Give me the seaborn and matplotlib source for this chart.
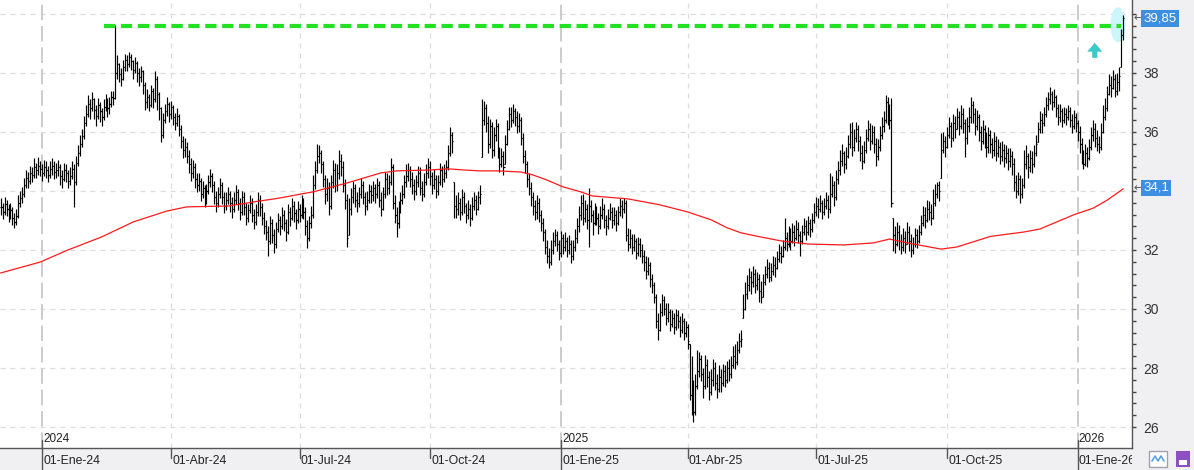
import numpy as np
import pandas as pd
import matplotlib
matplotlib.use('Agg')
import matplotlib.pyplot as plt
import seaborn as sns
from matplotlib import patches, transforms

# daily bars, first bar 01-Dic-23
closes = [
    33.45, 33.30, 33.55, 33.40, 33.20, 33.35, 33.10, 32.95, 33.15, 33.60,
    33.75, 33.90, 34.20, 34.45, 34.35, 34.60, 34.55, 34.80, 34.70, 34.85,
    34.75, 34.60, 34.80, 34.70, 34.55, 34.75, 34.85, 34.65, 34.70, 34.80,
    34.50, 34.40, 34.70, 34.60, 34.35, 34.50, 34.75, 34.30, 34.95, 35.30,
    35.60, 35.85, 36.30, 36.60, 36.95, 36.80, 37.10, 36.75, 36.55, 36.90,
    36.70, 36.50, 36.85, 37.05, 36.80, 36.95, 37.20, 37.15, 38.00, 38.30,
    37.95, 37.80, 38.20, 38.45, 38.30, 38.55, 38.40, 38.10, 38.35, 38.00,
    37.85, 38.05, 37.60, 37.00, 37.20, 36.90, 37.40, 37.10, 37.80, 37.30,
    36.80, 35.90, 36.40, 36.70, 36.95, 36.60, 36.85, 36.50, 36.30, 36.55,
    36.10, 35.70, 35.40, 35.50, 35.20, 34.90, 34.60, 34.80, 34.40, 34.20,
    34.35, 33.90, 34.10, 33.70, 34.00, 34.30, 34.50, 34.20, 33.80, 33.60,
    33.90, 34.20, 33.80, 33.50, 33.70, 33.90, 33.60, 33.40, 33.70, 33.95,
    33.60, 33.30, 33.80, 33.45, 33.10, 33.35, 33.60, 33.20, 32.95, 33.30,
    33.70, 33.45, 33.10, 32.80, 32.60, 32.30, 32.90, 32.50, 32.20, 32.70,
    33.00, 32.80, 33.20, 32.90, 32.60, 33.30, 33.10, 33.50, 33.25, 33.00,
    33.40, 33.20, 33.60, 33.30, 32.80, 32.40, 32.90, 33.20, 34.20, 34.70,
    35.20, 35.30, 34.90, 34.40, 33.90, 34.10, 33.50, 34.30, 34.70, 34.20,
    34.60, 35.00, 34.80, 34.20, 33.70, 32.40, 33.40, 33.80, 34.10, 33.70,
    33.60, 33.90, 34.20, 33.80, 33.50, 33.70, 34.00, 33.85, 34.10, 33.90,
    34.20, 33.70, 33.40, 33.90, 34.40, 34.10, 34.30, 34.80, 33.60, 33.20,
    32.90, 33.40, 33.70, 33.90, 34.30, 34.50, 34.70, 34.40, 34.20, 34.00,
    34.30, 34.60, 34.10, 33.90, 34.30, 34.60, 34.80, 34.50, 34.20, 34.40,
    34.00, 34.30, 34.70, 34.40, 34.60, 34.80, 35.30, 35.90, 35.70, 33.50,
    33.40, 33.60, 33.30, 33.80, 33.50, 33.20, 33.40, 33.10, 33.50, 33.70,
    33.40, 33.80, 33.90, 36.40, 36.80, 36.30, 35.60, 36.20, 35.40, 35.90,
    36.20, 35.30, 34.90, 35.20, 34.80, 35.60, 36.10, 36.60, 36.40, 36.70,
    36.50, 36.20, 36.40, 35.80, 35.20, 34.90, 34.40, 34.10, 33.80, 33.50,
    33.30, 33.60, 33.20, 32.90, 32.60, 32.10, 31.80, 31.60, 32.00, 32.30,
    32.50, 32.20, 31.90, 32.40, 32.10, 32.30, 32.00, 32.20, 31.80, 32.10,
    32.40, 32.80, 33.20, 33.60, 33.10, 33.40, 33.00, 33.50, 33.20, 32.90,
    33.30, 33.10, 32.80, 33.20, 33.40, 33.00, 32.80, 33.10, 33.30, 33.00,
    33.20, 32.90, 33.30, 33.50, 33.40, 33.60, 32.50, 32.20, 32.40, 32.10,
    32.30, 31.90, 32.20, 32.00, 31.80, 31.60, 31.30, 31.50, 31.00, 30.80,
    30.40, 29.60, 29.30, 29.90, 30.30, 30.00, 29.70, 29.90, 29.50, 29.70,
    29.40, 29.80, 29.60, 29.30, 29.60, 29.20, 29.40, 28.90, 27.10, 26.90,
    26.50, 27.40, 27.90, 28.30, 27.80, 27.40, 28.10, 27.70, 27.20, 27.60,
    28.00, 27.50, 27.30, 27.70, 27.50, 27.90, 27.60, 28.00, 27.80, 28.10,
    28.40, 28.20, 28.60, 28.90, 29.00, 30.00, 30.50, 30.80, 31.10, 30.90,
    31.20, 30.80, 31.00, 30.60, 30.40, 30.90, 31.20, 31.40, 31.10, 31.30,
    31.50, 31.40, 31.70, 31.90, 31.80, 32.10, 32.40, 32.20, 32.50, 32.30,
    32.60, 32.40, 32.70, 32.50, 32.30, 32.60, 32.80, 32.60, 32.90, 32.70,
    33.00, 33.30, 33.50, 33.40, 33.60, 33.30, 33.50, 33.70, 33.40, 33.90,
    34.20, 33.80, 34.40, 34.70, 35.00, 35.30, 34.90, 35.20, 35.60, 36.00,
    35.50, 35.80, 36.10, 35.70, 35.30, 35.00, 35.40, 35.80, 36.10, 35.70,
    36.00, 35.60, 35.20, 35.50, 35.90, 36.20, 36.40, 37.00, 36.60, 36.40,
    33.60, 32.50, 32.20, 32.60, 32.30, 32.10, 32.40, 32.20, 32.60, 32.30,
    32.00, 32.20, 32.50, 32.30, 32.60, 32.90, 33.20, 33.00, 33.40, 33.30,
    33.10, 33.60, 33.90, 34.20, 34.00, 35.40, 35.70, 35.50, 35.90, 36.20,
    35.80, 36.30, 36.10, 36.50, 36.20, 36.60, 36.30, 35.80, 36.20, 36.50,
    36.90, 36.60, 36.20, 36.50, 36.00, 35.70, 36.10, 35.80, 35.50, 35.90,
    35.60, 35.40, 35.70, 35.30, 35.50, 35.20, 35.40, 35.10, 35.30, 35.00,
    35.20, 34.90, 34.30, 34.00, 34.40, 33.90, 34.20, 34.90, 35.20, 34.80,
    35.10, 34.90, 35.30, 35.60, 36.10, 36.40, 36.30, 36.60, 36.90, 37.10,
    37.30, 37.00, 37.20, 36.80, 36.50, 36.70, 36.40, 36.60, 36.50, 36.70,
    36.40, 36.20, 36.50, 36.30, 36.00, 35.60, 35.20, 34.90, 35.30, 35.10,
    35.50, 35.90, 36.10, 35.80, 35.60, 35.50, 36.00, 36.50, 36.80, 37.30,
    37.60, 37.50, 37.80, 37.40, 37.70, 37.90, 39.30, 39.85,
]

highs = [
    33.75, 33.60, 33.80, 33.70, 33.55, 33.60, 33.45, 33.25, 33.40, 33.85,
    34.00, 34.15, 34.45, 34.70, 34.65, 34.85, 34.80, 35.10, 34.95, 35.15,
    35.00, 34.90, 35.05, 35.00, 34.85, 35.00, 35.10, 35.00, 34.95, 35.05,
    34.90, 34.70, 34.95, 34.90, 34.70, 34.80, 35.00, 34.90, 35.20, 35.55,
    35.90, 36.10, 36.55, 36.90, 37.25, 37.10, 37.35, 37.15, 36.90, 37.15,
    37.00, 36.80, 37.10, 37.30, 37.15, 37.20, 37.40, 37.40, 39.62, 38.60,
    38.35, 38.15, 38.45, 38.65, 38.60, 38.70, 38.65, 38.45, 38.55, 38.40,
    38.15, 38.25, 38.10, 37.70, 37.45, 37.30, 37.60, 37.50, 38.05, 37.90,
    37.35, 36.85, 36.65, 36.95, 37.20, 37.00, 37.05, 36.90, 36.65, 36.80,
    36.60, 36.25, 35.85, 35.80, 35.65, 35.40, 35.10, 35.05, 34.95, 34.60,
    34.60, 34.45, 34.35, 34.20, 34.25, 34.55, 34.75, 34.60, 34.35, 34.00,
    34.15, 34.45, 34.30, 33.95, 33.95, 34.15, 34.00, 33.80, 33.95, 34.20,
    34.05, 33.75, 34.00, 33.95, 33.60, 33.55, 33.85, 33.75, 33.40, 33.55,
    33.95, 33.85, 33.60, 33.30, 33.00, 32.80, 33.15, 33.05, 32.70, 32.95,
    33.25, 33.15, 33.45, 33.35, 33.05, 33.55, 33.45, 33.75, 33.65, 33.40,
    33.65, 33.55, 33.85, 33.75, 33.45, 33.00, 33.15, 33.50, 34.55, 35.00,
    35.60, 35.55, 35.40, 35.00, 34.55, 34.45, 34.30, 34.55, 35.05, 34.95,
    34.90, 35.40, 35.25, 35.00, 34.40, 33.90, 33.75, 34.10, 34.35, 34.25,
    33.95, 34.15, 34.45, 34.35, 33.95, 34.00, 34.25, 34.20, 34.35, 34.25,
    34.45, 34.35, 33.95, 34.15, 34.65, 34.60, 34.55, 35.10, 34.90, 33.85,
    33.45, 33.65, 33.95, 34.20, 34.55, 34.90, 34.95, 34.85, 34.65, 34.40,
    34.55, 34.85, 34.80, 34.35, 34.60, 34.90, 35.10, 35.00, 34.65, 34.75,
    34.55, 34.55, 34.95, 34.85, 34.90, 35.05, 35.55, 36.17, 36.00, 34.30,
    33.85, 33.95, 33.75, 34.05, 33.95, 33.60, 33.70, 33.55, 33.80, 33.95,
    33.85, 34.00, 34.20, 37.10, 37.05, 36.95, 36.55, 36.45, 36.35, 36.15,
    36.45, 36.30, 35.50, 35.45, 35.35, 35.90, 36.40, 36.85, 36.85, 36.95,
    36.80, 36.70, 36.65, 36.50, 35.95, 35.40, 35.00, 34.60, 34.30, 33.95,
    33.70, 33.85, 33.75, 33.35, 33.10, 32.70, 32.35, 32.05, 32.35, 32.60,
    32.70, 32.65, 32.35, 32.65, 32.55, 32.60, 32.45, 32.50, 32.35, 32.35,
    32.70, 33.10, 33.50, 33.85, 33.90, 33.70, 33.55, 34.10, 33.70, 33.35,
    33.60, 33.50, 33.25, 33.50, 33.75, 33.55, 33.20, 33.40, 33.60, 33.45,
    33.45, 33.35, 33.50, 33.75, 33.70, 33.75, 33.70, 32.75, 32.70, 32.55,
    32.55, 32.40, 32.45, 32.40, 32.20, 32.00, 31.80, 31.75, 31.60, 31.20,
    30.90, 30.50, 29.85, 30.20, 30.50, 30.45, 30.20, 30.20, 30.00, 29.95,
    29.85, 30.00, 29.95, 29.75, 29.85, 29.70, 29.60, 29.50, 28.80, 28.40,
    27.60, 27.80, 28.60, 28.55, 28.45, 28.00, 28.45, 28.30, 27.90, 27.95,
    28.30, 28.20, 27.80, 28.10, 27.95, 28.15, 28.10, 28.25, 28.30, 28.40,
    28.75, 28.80, 28.90, 29.20, 29.30, 30.50, 30.90, 31.15, 31.40, 31.30,
    31.45, 31.35, 31.25, 31.20, 30.95, 31.20, 31.45, 31.70, 31.60, 31.55,
    31.80, 31.75, 31.95, 32.20, 32.15, 32.35, 33.10, 32.60, 32.80, 32.75,
    32.90, 32.85, 33.00, 32.95, 32.65, 32.85, 33.10, 33.00, 33.15, 33.05,
    33.25, 33.60, 33.80, 33.75, 33.85, 33.70, 33.75, 33.95, 33.85, 34.60,
    34.50, 34.35, 34.70, 35.00, 35.40, 35.60, 35.35, 35.50, 35.90, 36.30,
    36.34, 36.10, 36.35, 36.25, 35.85, 35.55, 35.70, 36.10, 36.40, 36.30,
    36.25, 36.20, 35.80, 35.75, 36.20, 36.50, 36.70, 37.25, 37.20, 36.95,
    37.15, 33.10, 32.80, 32.95, 32.85, 32.55, 32.75, 32.65, 32.95, 32.80,
    32.55, 32.45, 32.75, 32.70, 32.85, 33.20, 33.50, 33.45, 33.70, 33.65,
    33.55, 34.05, 34.25, 34.30, 34.35, 35.95, 36.00, 35.85, 36.15, 36.50,
    36.35, 36.60, 36.55, 36.80, 36.70, 36.90, 36.80, 36.45, 36.50, 36.85,
    37.20, 37.05, 36.80, 36.75, 36.60, 36.20, 36.40, 36.25, 36.00, 36.15,
    36.05, 35.80, 36.00, 35.85, 35.75, 35.65, 35.70, 35.60, 35.55, 35.45,
    35.45, 35.35, 35.10, 34.55, 34.65, 34.55, 34.45, 35.40, 35.55, 35.30,
    35.40, 35.35, 35.55, 35.90, 36.35, 36.70, 36.65, 36.85, 37.20, 37.35,
    37.52, 37.40, 37.45, 37.25, 36.95, 36.95, 36.80, 36.85, 36.80, 36.90,
    36.85, 36.60, 36.75, 36.65, 36.40, 36.20, 35.80, 35.40, 35.60, 35.50,
    35.75, 36.15, 36.40, 36.30, 36.05, 35.85, 36.30, 36.90, 37.15, 37.55,
    37.95, 37.90, 38.10, 37.95, 38.00, 38.20, 39.50, 39.97,
]

lows = [
    33.20, 33.05, 33.20, 33.15, 32.95, 33.05, 32.85, 32.75, 32.85, 33.10,
    33.45, 33.60, 33.80, 34.10, 34.10, 34.25, 34.30, 34.45, 34.45, 34.55,
    34.50, 34.35, 34.50, 34.45, 34.30, 34.45, 34.55, 34.40, 34.45, 34.50,
    34.20, 34.10, 34.35, 34.30, 34.10, 34.20, 34.40, 33.45, 34.20, 34.85,
    35.20, 35.50, 35.75, 36.20, 36.50, 36.45, 36.70, 36.45, 36.20, 36.45,
    36.35, 36.20, 36.40, 36.70, 36.50, 36.60, 36.85, 36.90, 37.10, 37.80,
    37.70, 37.55, 37.75, 38.05, 38.05, 38.20, 38.10, 37.80, 38.00, 37.70,
    37.55, 37.70, 37.30, 36.75, 36.80, 36.70, 36.85, 36.80, 37.00, 36.75,
    36.40, 35.65, 35.80, 36.30, 36.55, 36.35, 36.45, 36.25, 36.05, 36.20,
    35.85, 35.45, 35.10, 35.15, 34.95, 34.60, 34.35, 34.45, 34.10, 33.95,
    34.00, 33.65, 33.75, 33.45, 33.55, 33.90, 34.15, 33.95, 33.55, 33.30,
    33.45, 33.75, 33.55, 33.25, 33.35, 33.55, 33.30, 33.10, 33.30, 33.55,
    33.35, 33.00, 33.20, 33.20, 32.85, 32.95, 33.25, 32.95, 32.70, 32.85,
    33.15, 33.15, 32.85, 32.55, 32.35, 31.80, 32.20, 32.25, 31.90, 32.05,
    32.60, 32.50, 32.70, 32.65, 32.30, 32.55, 32.80, 33.00, 32.95, 32.70,
    32.90, 32.95, 33.10, 33.05, 32.50, 32.07, 32.30, 32.75, 33.10, 34.05,
    34.60, 34.95, 34.60, 34.15, 33.55, 33.65, 33.20, 33.40, 34.10, 33.95,
    34.00, 34.40, 34.50, 33.95, 33.40, 32.10, 32.50, 33.20, 33.60, 33.45,
    33.30, 33.45, 33.75, 33.55, 33.20, 33.35, 33.60, 33.60, 33.65, 33.60,
    33.75, 33.45, 33.15, 33.35, 33.75, 33.85, 33.90, 34.20, 33.40, 32.90,
    32.45, 32.75, 33.25, 33.55, 33.75, 34.15, 34.35, 34.15, 33.90, 33.70,
    33.85, 34.15, 33.85, 33.65, 33.80, 34.20, 34.45, 34.20, 33.90, 34.05,
    33.75, 33.85, 34.20, 34.15, 34.30, 34.45, 34.70, 35.20, 35.30, 33.10,
    33.10, 33.20, 33.00, 33.20, 33.25, 32.90, 33.05, 32.80, 33.00, 33.35,
    33.20, 33.35, 33.55, 35.15, 36.25, 36.00, 35.30, 35.45, 35.10, 35.20,
    35.70, 35.10, 34.65, 34.80, 34.55, 34.90, 35.55, 36.05, 36.15, 36.30,
    36.20, 35.95, 36.00, 35.55, 34.95, 34.60, 34.15, 33.85, 33.50, 33.20,
    33.00, 33.05, 32.95, 32.65, 32.30, 31.85, 31.55, 31.40, 31.50, 31.85,
    32.15, 31.95, 31.65, 31.75, 31.85, 31.95, 31.75, 31.85, 31.55, 31.65,
    31.95, 32.25, 32.60, 33.00, 32.85, 32.95, 32.70, 32.10, 32.95, 32.50,
    32.85, 32.85, 32.55, 32.70, 33.05, 32.75, 32.50, 32.70, 33.00, 32.75,
    32.85, 32.65, 32.85, 33.15, 33.10, 33.25, 32.30, 31.95, 32.05, 31.85,
    31.95, 31.70, 31.80, 31.75, 31.55, 31.30, 31.00, 31.15, 30.75, 30.55,
    30.20, 29.35, 28.95, 29.25, 29.75, 29.80, 29.45, 29.55, 29.25, 29.40,
    29.15, 29.30, 29.35, 29.05, 29.20, 28.95, 29.05, 28.65, 26.90, 26.40,
    26.17, 26.40, 27.30, 27.70, 27.55, 27.00, 27.30, 27.35, 26.90, 27.10,
    27.40, 27.25, 27.00, 27.20, 27.20, 27.40, 27.35, 27.50, 27.55, 27.65,
    28.00, 27.95, 28.10, 28.50, 28.70, 29.70, 29.95, 30.35, 30.60, 30.50,
    30.75, 30.55, 30.65, 30.25, 30.20, 30.40, 30.80, 31.05, 30.90, 30.95,
    31.15, 31.10, 31.35, 31.60, 31.55, 31.75, 32.00, 31.95, 32.10, 32.00,
    32.25, 32.15, 32.35, 32.25, 31.80, 32.20, 32.50, 32.35, 32.50, 32.45,
    32.60, 32.90, 33.15, 33.10, 33.30, 33.05, 33.20, 33.40, 33.10, 33.25,
    33.80, 33.50, 33.70, 34.25, 34.55, 34.85, 34.60, 34.75, 35.10, 35.45,
    35.20, 35.35, 35.65, 35.35, 35.00, 34.75, 34.95, 35.30, 35.70, 35.40,
    35.60, 35.30, 34.85, 35.05, 35.35, 35.75, 36.00, 36.30, 36.25, 36.10,
    33.45, 31.95, 31.90, 32.15, 32.00, 31.85, 31.95, 31.90, 32.20, 31.95,
    31.76, 31.85, 32.10, 32.05, 32.25, 32.50, 32.80, 32.75, 32.95, 33.00,
    32.85, 33.05, 33.50, 33.75, 33.65, 34.45, 35.30, 35.15, 35.45, 35.80,
    35.50, 35.70, 35.80, 36.10, 35.90, 36.10, 35.95, 35.15, 35.60, 36.00,
    36.30, 36.30, 35.90, 36.05, 35.70, 35.40, 35.60, 35.45, 35.15, 35.30,
    35.30, 35.10, 35.20, 35.00, 35.15, 34.90, 35.00, 34.80, 34.95, 34.70,
    34.80, 34.55, 34.00, 33.75, 33.85, 33.60, 33.75, 34.10, 34.75, 34.45,
    34.65, 34.60, 34.80, 35.20, 35.65, 35.95, 35.95, 36.20, 36.50, 36.75,
    36.95, 36.75, 36.85, 36.50, 36.25, 36.35, 36.15, 36.30, 36.25, 36.40,
    36.15, 35.95, 36.10, 36.00, 35.70, 35.30, 34.90, 34.75, 34.85, 34.80,
    35.05, 35.40, 35.70, 35.50, 35.35, 35.30, 35.40, 35.95, 36.40, 36.70,
    37.25, 37.20, 37.45, 37.20, 37.25, 37.40, 38.20, 39.10,
]

# red moving average, read at bar positions
ma_idx = [0, 20, 34, 51, 67, 84, 94, 115, 128, 141, 152, 158, 175, 192, 200,
          217, 226, 234, 242, 251, 263, 269, 276, 284, 293, 299, 317, 333, 347,
          359, 367, 374, 384, 394, 408, 426, 441, 449, 458, 475, 483, 500, 517,
          525, 542, 552, 559, 567]
ma_val = [31.22, 31.59, 32.00, 32.44, 32.95, 33.32, 33.46, 33.49, 33.63, 33.76,
          33.90, 33.97, 34.27, 34.61, 34.68, 34.71, 34.75, 34.71, 34.68, 34.68,
          34.64, 34.54, 34.37, 34.14, 33.97, 33.83, 33.73, 33.53, 33.29, 33.02,
          32.75, 32.58, 32.44, 32.31, 32.20, 32.17, 32.24, 32.37, 32.24, 32.03,
          32.10, 32.46, 32.61, 32.71, 33.19, 33.42, 33.69, 34.07]

resistance = 39.60
last_price = 39.85
last_ma = 34.1
meses = {1: 'Ene', 4: 'Abr', 7: 'Jul', 10: 'Oct'}
y_labels = [26, 28, 30, 32, 36, 38]  # 34 sits under the blue box

sns.set_style('white')
plt.rcParams['font.family'] = ['Liberation Sans', 'DejaVu Sans']

n = min(len(closes), len(highs), len(lows))
closes = np.array(closes[:n])
highs = np.array(highs[:n])
lows = np.array(lows[:n])
idx = np.arange(n)
dates = pd.bdate_range('2023-12-01', periods=n)
opens = np.clip(np.r_[closes[0], closes[:-1]], lows, highs)

W, H = 1194, 470
fig = plt.figure(figsize=(W / 100, H / 100), dpi=100, facecolor='#f0f0f2')
ax = fig.add_axes([0, 22 / H, 1132 / W, 448 / H])
ax.set_facecolor('white')
ax.set_xlim(-0.3, 571.5)
ax.set_ylim(25.29, 40.47)

# grid
for v in range(26, 41, 2):
    ax.axhline(v, color='#dddddd', lw=0.9, ls=(0, (4, 4)), zorder=0)

blend = transforms.blended_transform_factory(ax.transData, ax.transAxes)
clipbox = transforms.TransformedBbox(transforms.Bbox.from_extents(0, 0, 1132 / W, 1), fig.transFigure)
for q in pd.date_range('2024-01-01', '2026-01-01', freq='QS'):
    qi = dates.searchsorted(q)
    if q.month == 1:
        ax.axvline(qi, color='#cccccc', lw=1.4, ls=(0, (8, 3)), zorder=0)
        ax.plot([qi, qi], [0.018, -0.05], color='#555555', lw=1, transform=blend, clip_on=False)
        ax.text(qi + 0.6, 0.006, str(q.year), transform=blend, fontsize=8.5, color='#222222',
                ha='left', va='bottom')
    else:
        ax.axvline(qi, color='#dddddd', lw=0.9, ls=(0, (4, 4)), zorder=0)
        ax.plot([qi, qi], [0, -0.022], color='#555555', lw=1, transform=blend, clip_on=False)
    t = ax.text(qi + 0.6, -0.03, '01-%s-%s' % (meses[q.month], str(q.year)[2:]), transform=blend,
                fontsize=8.8, color='#222222', ha='left', va='center', clip_on=True)
    t.set_clip_box(clipbox)

# highlight and arrow
ax.add_patch(patches.Ellipse((564.4, 39.63), 7.6, 1.19, color='#cdf6fb', lw=0, zorder=1))
ax.add_patch(patches.FancyArrow(552.7, 38.51, 0, 0.51, width=2.6, head_width=7.6, head_length=0.3,
                                length_includes_head=True, color='#3cc8c8', lw=0, zorder=2))

# ohlc bars
ax.vlines(idx, lows, highs, color='black', lw=0.85, zorder=3)
ax.hlines(closes, idx, idx + 0.55, color='black', lw=0.85, zorder=3)
ax.hlines(opens, idx - 0.55, idx, color='black', lw=0.85, zorder=3)

# moving average
sns.lineplot(x=ma_idx, y=ma_val, color='#ff1a1a', lw=0.9, ax=ax, zorder=4)

# resistance line
ax.hlines(resistance, 52, 566, colors='#22e022', lw=3, linestyles=(0, (2.7, 1.35)), zorder=5)

# right axis
ax.yaxis.tick_right()
ax.set_yticks(y_labels)
ax.set_yticklabels([str(v) for v in y_labels])
ax.set_yticks([v for v in np.arange(26, 40.01, 0.4) if round(v, 1) not in y_labels], minor=True)
ax.tick_params(axis='y', which='both', right=True, left=False, length=3, width=1, color='#444444',
               direction='out', pad=5, labelsize=10, labelcolor='#333333')
ax.set_xticks([])
ax.set_xlabel('')
ax.set_ylabel('')
for s in ['top', 'left']:
    ax.spines[s].set_visible(False)
for s in ['right', 'bottom']:
    ax.spines[s].set_color('#555555')
    ax.spines[s].set_linewidth(1)

rblend = transforms.blended_transform_factory(fig.transFigure, ax.transData)
for val, txt in [(last_price, '39,85'), (last_ma, '34,1')]:
    ax.text(1133 / W, val, '\u2190', transform=rblend, fontsize=8, color='#555555',
            ha='left', va='center', clip_on=False, family=['DejaVu Sans'])
    ax.text(1143 / W, val, txt, transform=rblend, fontsize=9.5, color='white', ha='left', va='center',
            clip_on=False, bbox=dict(boxstyle='square,pad=0.18', fc='#3d8fe2', ec='none'))

# small icons in the corner
fig.patches.append(patches.Rectangle((1149 / W, 3 / H), 18 / W, 16 / H, transform=fig.transFigure,
                                     fc='white', ec='#a0a0b0', lw=1))
fig.lines.append(plt.Line2D([1152 / W, 1155 / W, 1158 / W, 1161 / W, 1164 / W],
                            [9 / H, 14 / H, 9 / H, 14 / H, 9 / H], transform=fig.transFigure,
                            color='#5aa0e0', lw=1.2))
fig.patches.append(patches.Rectangle((1176 / W, 3 / H), 14 / W, 16 / H, transform=fig.transFigure,
                                     fc='#8e4fc6', ec='none'))
fig.patches.append(patches.Rectangle((1179 / W, 5 / H), 8 / W, 5 / H, transform=fig.transFigure,
                                     fc='white', ec='none'))

fig.savefig('out.png', dpi=100, facecolor=fig.get_facecolor())
